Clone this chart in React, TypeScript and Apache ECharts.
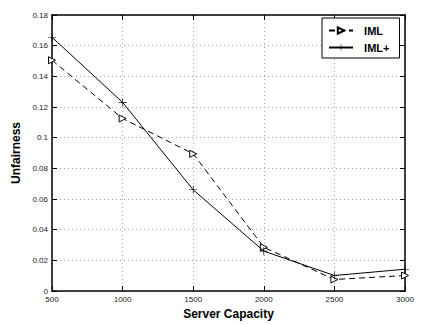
import React, { useEffect, useRef } from "react";
import * as echarts from "echarts";

const capacities = [500, 1000, 1500, 2000, 2500, 3000];
const imlValues = [0.1505, 0.1125, 0.0895, 0.0285, 0.0075, 0.0101];
const imlPlusValues = [0.1655, 0.123, 0.066, 0.026, 0.0101, 0.0142];
const yTicks = [0, 0.02, 0.04, 0.06, 0.08, 0.1, 0.12, 0.14, 0.16, 0.18];

const FONT = "Liberation Sans, Arial, sans-serif";
const PLUS = "path://M4.6,0H5.4V4.6H10V5.4H5.4V10H4.6V5.4H0V4.6H4.6Z";
const GRID_DOTS = { color: "#aaa", type: [1, 3] as number[], width: 1 };

export default function App() {
  const ref = useRef<HTMLDivElement>(null);

  useEffect(() => {
    if (!ref.current) return;
    const chart = echarts.init(ref.current, null, { renderer: "svg" });
    const imlData = capacities.map((c, i) => [c, imlValues[i]]);
    const imlPlusData = capacities.map((c, i) => [c, imlPlusValues[i]]);

    const boxAxis = { color: "#000", width: 1.5 };
    const tick = { show: true, inside: true, length: 5, lineStyle: { color: "#000" } };

    chart.setOption({
      animation: false,
      backgroundColor: "#fff",
      grid: { left: 52, right: 17, top: 15, bottom: 32, containLabel: false },
      legend: {
        show: true,
        orient: "vertical",
        left: 322,
        top: 18,
        itemWidth: 24,
        itemHeight: 8,
        itemGap: 6,
        padding: [7, 10, 5, 6],
        backgroundColor: "#fff",
        borderColor: "#000",
        borderWidth: 1,
        formatter: (name: string) => "  " + name,
        textStyle: { color: "#000", fontSize: 11, fontWeight: "bold", fontFamily: FONT },
        data: ["IML", "IML+"],
      },
      xAxis: [
        {
          type: "value",
          min: 500,
          max: 3000,
          interval: 500,
          axisLine: { show: true, onZero: false, lineStyle: boxAxis },
          axisTick: tick,
          axisLabel: {
            color: "#222",
            fontSize: 8,
            fontFamily: FONT,
            margin: 4,
            formatter: (v: number) => String(v),
          },
          splitLine: { show: true, lineStyle: GRID_DOTS },
          name: "Server Capacity",
          nameLocation: "middle",
          nameGap: 17,
          nameTextStyle: { color: "#000", fontSize: 12, fontWeight: "bold", fontFamily: FONT },
        },
        {
          type: "value",
          position: "top",
          min: 500,
          max: 3000,
          interval: 500,
          axisLine: { show: true, onZero: false, lineStyle: boxAxis },
          axisTick: tick,
          axisLabel: { show: false },
          splitLine: { show: false },
        },
      ],
      yAxis: [
        {
          type: "value",
          min: 0,
          max: 0.18,
          interval: 0.02,
          axisLine: { show: true, onZero: false, lineStyle: boxAxis },
          axisTick: tick,
          axisLabel: {
            color: "#222",
            fontSize: 8,
            fontFamily: FONT,
            margin: 4,
            formatter: (v: number) => {
              const t = yTicks.find((y) => Math.abs(y - v) < 1e-9);
              return t === undefined ? "" : String(+t.toFixed(2));
            },
          },
          splitLine: { show: true, lineStyle: GRID_DOTS },
          name: "Unfairness",
          nameLocation: "middle",
          nameGap: 20,
          nameTextStyle: { color: "#000", fontSize: 12, fontWeight: "bold", fontFamily: FONT },
        },
        {
          type: "value",
          position: "right",
          min: 0,
          max: 0.18,
          interval: 0.02,
          axisLine: { show: true, onZero: false, lineStyle: boxAxis },
          axisTick: tick,
          axisLabel: { show: false },
          splitLine: { show: false },
        },
      ],
      series: [
        {
          name: "IML",
          type: "line",
          data: imlData,
          symbol: "triangle",
          symbolRotate: -90,
          symbolSize: 7,
          showAllSymbol: true,
          lineStyle: { color: "#000", width: 1, type: [6, 4] },
          itemStyle: { color: "#fff", borderColor: "#000", borderWidth: 1 },
          z: 3,
        },
        {
          name: "IML+",
          type: "line",
          data: imlPlusData,
          symbol: PLUS,
          symbolSize: 8,
          showAllSymbol: true,
          lineStyle: { color: "#000", width: 1, type: "solid" },
          itemStyle: { color: "#000", borderWidth: 0 },
          z: 4,
        },
      ],
    });
    return () => chart.dispose();
  }, []);

  return <div ref={ref} style={{ width: 422, height: 325, position: "absolute", left: 0, top: 0 }} />;
}
